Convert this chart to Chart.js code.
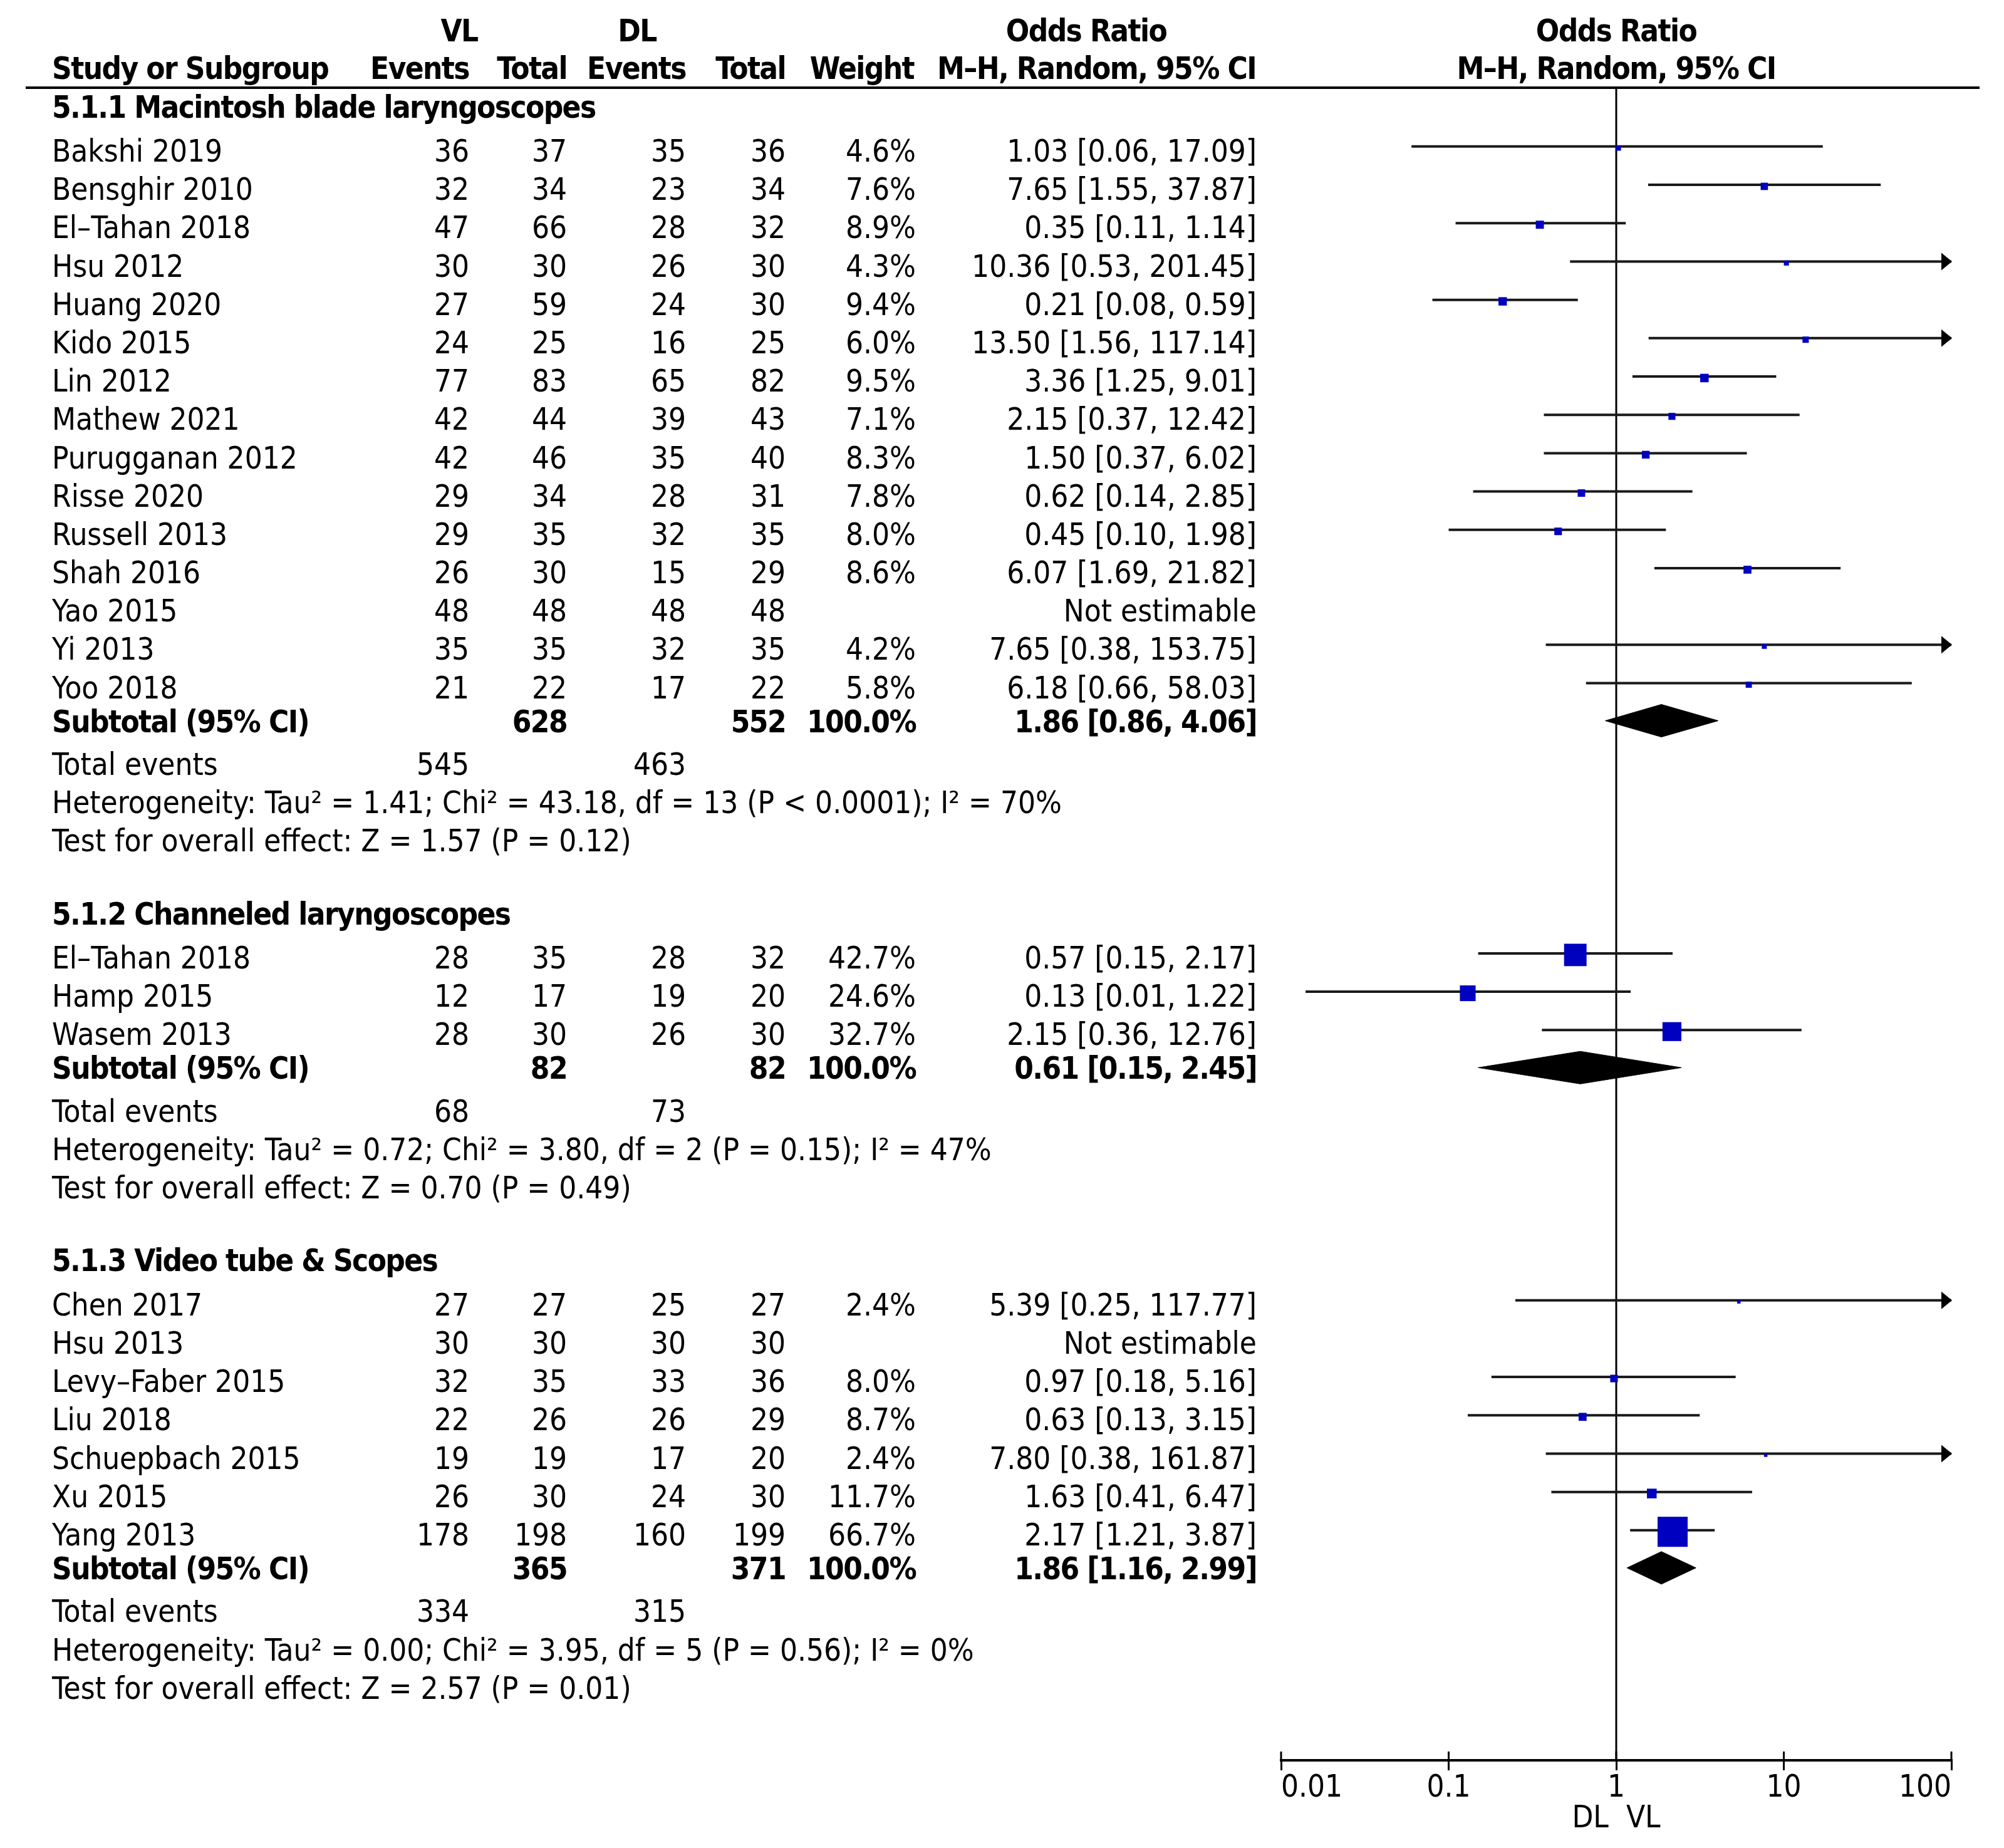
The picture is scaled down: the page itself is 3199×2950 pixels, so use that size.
<!DOCTYPE html>
<html>
<head>
<meta charset="utf-8">
<script src="https://cdn.jsdelivr.net/npm/chart.js@4.4.1/dist/chart.umd.min.js"></script>
<style>
  html, body { margin: 0; padding: 0; background: #fff; }
  canvas { display: block; }
</style>
</head>
<body>
<canvas id="forest" width="3199" height="2950"></canvas>
<script>
// --- data ---
const groupNames = ['5.1.1 Macintosh blade laryngoscopes', '5.1.2 Channeled laryngoscopes', '5.1.3 Video tube & Scopes'];

const studyNames = ['Bakshi 2019', 'Bensghir 2010', 'El–Tahan 2018', 'Hsu 2012', 'Huang 2020', 'Kido 2015', 'Lin 2012',
  'Mathew 2021', 'Purugganan 2012', 'Risse 2020', 'Russell 2013', 'Shah 2016', 'Yao 2015', 'Yi 2013', 'Yoo 2018',
  'El–Tahan 2018', 'Hamp 2015', 'Wasem 2013',
  'Chen 2017', 'Hsu 2013', 'Levy–Faber 2015', 'Liu 2018', 'Schuepbach 2015', 'Xu 2015', 'Yang 2013'];
const studyGroup = [0,0,0,0,0,0,0,0,0,0,0,0,0,0,0, 1,1,1, 2,2,2,2,2,2,2];
const vlEvents = [36, 32, 47, 30, 27, 24, 77, 42, 42, 29, 29, 26, 48, 35, 21, 28, 12, 28, 27, 30, 32, 22, 19, 26, 178];
const vlTotal  = [37, 34, 66, 30, 59, 25, 83, 44, 46, 34, 35, 30, 48, 35, 22, 35, 17, 30, 27, 30, 35, 26, 19, 30, 198];
const dlEvents = [35, 23, 28, 26, 24, 16, 65, 39, 35, 28, 32, 15, 48, 32, 17, 28, 19, 26, 25, 30, 33, 26, 17, 24, 160];
const dlTotal  = [36, 34, 32, 30, 30, 25, 82, 43, 40, 31, 35, 29, 48, 35, 22, 32, 20, 30, 27, 30, 36, 29, 20, 30, 199];
const weight   = [4.6, 7.6, 8.9, 4.3, 9.4, 6.0, 9.5, 7.1, 8.3, 7.8, 8.0, 8.6, null, 4.2, 5.8, 42.7, 24.6, 32.7,
  2.4, null, 8.0, 8.7, 2.4, 11.7, 66.7];
const oddsRatio = [1.03, 7.65, 0.35, 10.36, 0.21, 13.50, 3.36, 2.15, 1.50, 0.62, 0.45, 6.07, null, 7.65, 6.18,
  0.57, 0.13, 2.15, 5.39, null, 0.97, 0.63, 7.80, 1.63, 2.17];
const ciLow  = [0.06, 1.55, 0.11, 0.53, 0.08, 1.56, 1.25, 0.37, 0.37, 0.14, 0.10, 1.69, null, 0.38, 0.66,
  0.15, 0.014, 0.36, 0.25, null, 0.18, 0.13, 0.38, 0.41, 1.21];
const ciHigh = [17.09, 37.87, 1.14, 201.45, 0.59, 117.14, 9.01, 12.42, 6.02, 2.85, 1.98, 21.82, null, 153.75, 58.03,
  2.17, 1.22, 12.76, 117.77, null, 5.16, 3.15, 161.87, 6.47, 3.87];

const subVlTotal = [628, 82, 365];
const subDlTotal = [552, 82, 371];
const subOR  = [1.86, 0.61, 1.86];
const subLow = [0.86, 0.15, 1.16];
const subHigh = [4.06, 2.45, 2.99];
const totVlEvents = [545, 68, 334];
const totDlEvents = [463, 73, 315];
const hetText = [
  'Heterogeneity: Tau² = 1.41; Chi² = 43.18, df = 13 (P < 0.0001); I² = 70%',
  'Heterogeneity: Tau² = 0.72; Chi² = 3.80, df = 2 (P = 0.15); I² = 47%',
  'Heterogeneity: Tau² = 0.00; Chi² = 3.95, df = 5 (P = 0.56); I² = 0%'];
const effectText = [
  'Test for overall effect: Z = 1.57 (P = 0.12)',
  'Test for overall effect: Z = 0.70 (P = 0.49)',
  'Test for overall effect: Z = 2.57 (P = 0.01)'];
const xTicks = [0.01, 0.1, 1, 10, 100];
const axisLabel = 'DL  VL';

// --- layout ---
const FAMILY = "'DejaVu Sans Condensed', 'DejaVu Sans', sans-serif";
const FS = 49;
const CAP = 18;           // half cap height, to centre text on a row
const Y_MIN = -1.634, Y_MAX = 42.0;

// row positions (in row units)
const studyY = [], subY = [], totY = [], hetY = [], testY = [], headY = [];
let r = -1.15;
groupNames.forEach((g, gi) => {
  if (gi > 0) r = testY[gi - 1] + 1.9;
  headY.push(r);
  r += 1.15;
  let first = true;
  studyNames.forEach((s, i) => {
    if (studyGroup[i] !== gi) return;
    if (!first) r += 1;
    first = false;
    studyY[i] = r;
  });
  r += 0.88; subY.push(r);
  r += 1.12; totY.push(r);
  r += 1; hetY.push(r);
  r += 1; testY.push(r);
});

const fmt = v => v.toFixed(2);
const ciLabel = (o, l, h) => fmt(o) + ' [' + fmt(l) + ', ' + fmt(h) + ']';

// --- datasets ---
const datasets = [];
datasets.push({
  type: 'line', order: 3,
  data: [{x: 1, y: Y_MIN}, {x: 1, y: Y_MAX}],
  borderColor: '#000', borderWidth: 3, pointRadius: 0
});
studyNames.forEach((s, i) => {
  if (oddsRatio[i] === null) return;
  datasets.push({
    type: 'line', order: 1,
    data: [{x: ciLow[i], y: studyY[i] - 0.1}, {x: Math.min(ciHigh[i], 100), y: studyY[i] - 0.1}],
    borderColor: '#1a1a1a', borderWidth: 4, pointRadius: 0
  });
});
const boxPts = [], boxR = [];
studyNames.forEach((s, i) => {
  if (oddsRatio[i] === null) return;
  boxPts.push({x: oddsRatio[i], y: studyY[i] - 0.06});
  const side = 48 * Math.pow(weight[i] / 66.7, 0.65);
  boxR.push(side / (2 * Math.SQRT1_2));
});
datasets.push({
  type: 'scatter', order: 0,
  data: boxPts, pointStyle: 'rect', pointRadius: boxR,
  backgroundColor: '#0000c0', borderWidth: 0, pointBorderWidth: 0
});
groupNames.forEach((g, gi) => {
  const h = 0.425, y = subY[gi];
  datasets.push({
    type: 'line', order: 2,
    data: [{x: subLow[gi], y: y}, {x: subOR[gi], y: y - h}, {x: subHigh[gi], y: y},
           {x: subOR[gi], y: y + h}, {x: subLow[gi], y: y}],
    fill: 'shape', backgroundColor: '#000', borderColor: '#000', borderWidth: 1,
    pointRadius: 0, tension: 0
  });
});

// --- table text, header rule, arrows ---
const tablePlugin = {
  id: 'forestTable',
  afterDraw(chart) {
    const ctx = chart.ctx;
    const ys = chart.scales.y, xs = chart.scales.x;
    const area = chart.chartArea;
    const COL = {name: 83, vlEv: 749, vlTot: 905, dlEv: 1095, dlTot: 1254, wt: 1462, ci: 2006};

    function t(s, x, yv, align, bold) {
      ctx.font = (bold ? 'bold ' : '') + FS + 'px ' + FAMILY;
      ctx.letterSpacing = bold ? '-1.6px' : '0px';
      ctx.textAlign = align;
      ctx.textBaseline = 'alphabetic';
      ctx.fillStyle = '#000';
      ctx.fillText(s, x, ys.getPixelForValue(yv) + CAP);
    }

    ctx.save();
    // header rule
    ctx.strokeStyle = '#000';
    ctx.lineWidth = 4;
    ctx.beginPath();
    ctx.moveTo(41, area.top);
    ctx.lineTo(3160, area.top);
    ctx.stroke();

    // headers
    const h1 = -3.14, h2 = -2.16;
    const x1 = xs.getPixelForValue(1);
    t('VL', 733, h1, 'center', true);
    t('DL', 1017, h1, 'center', true);
    t('Odds Ratio', 1734, h1, 'center', true);
    t('Odds Ratio', x1, h1, 'center', true);
    t('Study or Subgroup', COL.name, h2, 'left', true);
    t('Events', COL.vlEv, h2, 'right', true);
    t('Total', COL.vlTot, h2, 'right', true);
    t('Events', COL.dlEv, h2, 'right', true);
    t('Total', COL.dlTot, h2, 'right', true);
    t('Weight', 1459, h2, 'right', true);
    t('M–H, Random, 95% CI', 2005, h2, 'right', true);
    t('M–H, Random, 95% CI', x1, h2, 'center', true);

    groupNames.forEach((g, gi) => {
      t(g, COL.name, headY[gi], 'left', true);
      t('Subtotal (95% CI)', COL.name, subY[gi], 'left', true);
      t(String(subVlTotal[gi]), COL.vlTot, subY[gi], 'right', true);
      t(String(subDlTotal[gi]), COL.dlTot, subY[gi], 'right', true);
      t('100.0%', COL.wt, subY[gi], 'right', true);
      t(ciLabel(subOR[gi], subLow[gi], subHigh[gi]), COL.ci, subY[gi], 'right', true);
      t('Total events', COL.name, totY[gi], 'left', false);
      t(String(totVlEvents[gi]), COL.vlEv, totY[gi], 'right', false);
      t(String(totDlEvents[gi]), COL.dlEv, totY[gi], 'right', false);
      t(hetText[gi], COL.name, hetY[gi], 'left', false);
      t(effectText[gi], COL.name, testY[gi], 'left', false);
    });

    studyNames.forEach((s, i) => {
      const y = studyY[i];
      t(s, COL.name, y, 'left', false);
      t(String(vlEvents[i]), COL.vlEv, y, 'right', false);
      t(String(vlTotal[i]), COL.vlTot, y, 'right', false);
      t(String(dlEvents[i]), COL.dlEv, y, 'right', false);
      t(String(dlTotal[i]), COL.dlTot, y, 'right', false);
      if (oddsRatio[i] === null) {
        t('Not estimable', COL.ci, y, 'right', false);
      } else {
        t(weight[i].toFixed(1) + '%', COL.wt, y, 'right', false);
        t(ciLabel(oddsRatio[i], ciLow[i], ciHigh[i]), COL.ci, y, 'right', false);
      }
      // arrow when the interval runs past the axis
      if (ciHigh[i] !== null && ciHigh[i] > 100) {
        const px = xs.getPixelForValue(100), py = ys.getPixelForValue(y - 0.1);
        ctx.fillStyle = '#000';
        ctx.beginPath();
        ctx.moveTo(px - 16, py - 14);
        ctx.lineTo(px + 1, py);
        ctx.lineTo(px - 16, py + 14);
        ctx.closePath();
        ctx.fill();
      }
    });

    // upper half of the axis ticks
    ctx.strokeStyle = '#000';
    ctx.lineWidth = 3;
    xTicks.forEach(v => {
      const px = xs.getPixelForValue(v);
      ctx.beginPath();
      ctx.moveTo(px, area.bottom - 14);
      ctx.lineTo(px, area.bottom);
      ctx.stroke();
    });
    ctx.restore();
  }
};

new Chart(document.getElementById('forest'), {
  type: 'scatter',
  data: {datasets: datasets},
  options: {
    responsive: false,
    devicePixelRatio: 1,
    animation: false,
    events: [],
    layout: {padding: {left: 2045, right: 84, top: 140, bottom: 0}},
    plugins: {legend: {display: false}, tooltip: {enabled: false}},
    scales: {
      x: {
        type: 'logarithmic', min: 0.01, max: 100,
        afterBuildTicks: s => { s.ticks = xTicks.map(v => ({value: v})); },
        afterFit: s => { s.height = 140; },
        ticks: {
          align: 'inner', color: '#000', padding: 0,
          font: {family: FAMILY, size: FS},
          callback: v => String(v)
        },
        grid: {drawOnChartArea: false, drawTicks: true, tickLength: 16, color: '#000', lineWidth: 3},
        border: {display: true, color: '#000', width: 4},
        title: {display: true, text: axisLabel, color: '#000',
                font: {family: FAMILY, size: FS}, padding: {top: 0, bottom: 16}}
      },
      y: {type: 'linear', reverse: true, min: Y_MIN, max: Y_MAX, display: false}
    }
  },
  plugins: [tablePlugin]
});
</script>
</body>
</html>
